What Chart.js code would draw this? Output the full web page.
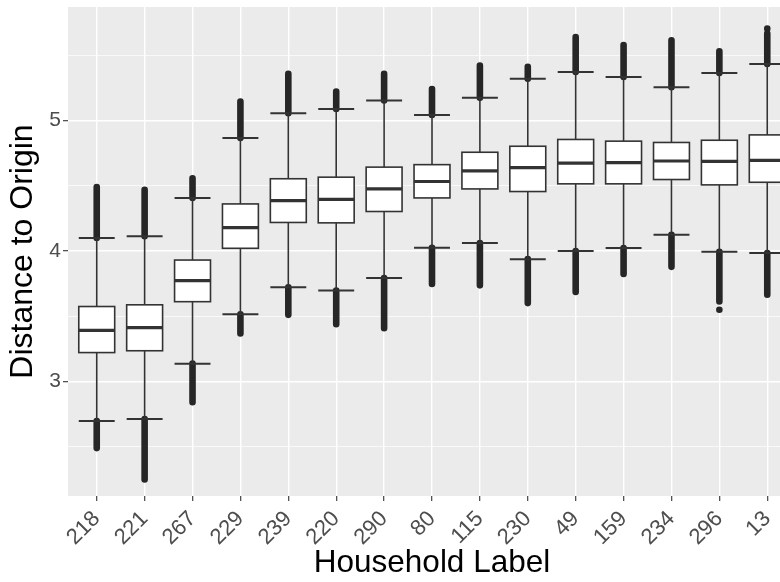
<!DOCTYPE html>
<html lang="en">
<head>
<meta charset="UTF-8">
<title>Distance to Origin by Household</title>
<script src="https://cdn.jsdelivr.net/npm/chart.js"></script>
<style>
  html, body { margin: 0; padding: 0; overflow: hidden; background: #fff; }
</style>
</head>
<body>
<!-- canvas is a bit wider than the window: the last box runs off the right edge like the original -->
<canvas id="boxChart" width="812" height="582"></canvas>
<script>
// categories in plot order
const households = ['218', '221', '267', '229', '239', '220', '290', '80', '115', '230', '49', '159', '234', '296', '13'];

// box stats
const q1     = [3.222, 3.236, 3.612, 4.021, 4.219, 4.216, 4.303, 4.407, 4.476, 4.456, 4.515, 4.515, 4.548, 4.507, 4.527];
const median = [3.392, 3.413, 3.774, 4.180, 4.386, 4.396, 4.476, 4.533, 4.615, 4.639, 4.674, 4.677, 4.690, 4.687, 4.695];
const q3     = [3.575, 3.588, 3.931, 4.361, 4.554, 4.566, 4.643, 4.662, 4.757, 4.803, 4.855, 4.842, 4.832, 4.849, 4.890];
const whiskerHigh = [4.100, 4.113, 4.407, 4.867, 5.056, 5.089, 5.153, 5.042, 5.174, 5.320, 5.372, 5.334, 5.256, 5.364, 5.434];
const whiskerLow  = [2.697, 2.713, 3.137, 3.516, 3.722, 3.697, 3.794, 4.025, 4.062, 3.938, 4.000, 4.023, 4.124, 3.995, 3.985];

// outliers are so dense they form solid columns: keep only their extremes
const outlierMax = [4.490, 4.470, 4.558, 5.145, 5.359, 5.222, 5.359, 5.241, 5.421, 5.411, 5.639, 5.578, 5.614, 5.531, 5.666];
const outlierMin = [2.490, 2.249, 2.842, 3.369, 3.511, 3.439, 3.408, 3.747, 3.737, 3.601, 3.686, 3.825, 3.879, 3.614, 3.666];
// a couple of separate points that stand off the columns
const loneLabels = ['13', '296'];
const loneValues = [5.704, 3.550];

const yTicks = [2.5, 3, 3.5, 4, 4.5, 5, 5.5];

const INK = '#333333';
const BOX_WIDTH = 0.75; // in category units
const FONT = '"Liberation Sans", Arial, sans-serif';

const boxPlugin = {
    id: 'ggBoxes',
    beforeDraw(chart) {
        // grey panel behind the grid
        const { ctx, chartArea: a } = chart;
        ctx.save();
        ctx.fillStyle = '#EBEBEB';
        ctx.fillRect(a.left, a.top, a.right - a.left, a.bottom - a.top);
        ctx.restore();
    },
    beforeDatasetsDraw(chart) {
        const { ctx, scales: { x, y } } = chart;
        ctx.save();
        households.forEach((h, i) => {
            const cx = x.getPixelForValue(i + 1);
            const half = (x.getPixelForValue(i + 1 + BOX_WIDTH / 2) - x.getPixelForValue(i + 1 - BOX_WIDTH / 2)) / 2;

            // outlier columns
            ctx.lineWidth = 6.6;
            ctx.lineCap = 'round';
            ctx.strokeStyle = '#262626';
            ctx.beginPath();
            ctx.moveTo(cx, y.getPixelForValue(whiskerHigh[i]));
            ctx.lineTo(cx, y.getPixelForValue(outlierMax[i]));
            ctx.moveTo(cx, y.getPixelForValue(whiskerLow[i]));
            ctx.lineTo(cx, y.getPixelForValue(outlierMin[i]));
            ctx.stroke();
            ctx.lineCap = 'butt';
            ctx.strokeStyle = INK;

            // whisker line
            ctx.lineWidth = 1.6;
            ctx.beginPath();
            ctx.moveTo(cx, y.getPixelForValue(whiskerLow[i]));
            ctx.lineTo(cx, y.getPixelForValue(whiskerHigh[i]));
            ctx.stroke();

            // whisker caps
            ctx.lineWidth = 2;
            ctx.beginPath();
            [whiskerLow[i], whiskerHigh[i]].forEach(v => {
                const py = y.getPixelForValue(v);
                ctx.moveTo(cx - half, py);
                ctx.lineTo(cx + half, py);
            });
            ctx.stroke();

            // box
            const top = y.getPixelForValue(q3[i]);
            const bot = y.getPixelForValue(q1[i]);
            ctx.fillStyle = '#ffffff';
            ctx.fillRect(cx - half, top, half * 2, bot - top);
            ctx.lineWidth = 1.6;
            ctx.strokeRect(cx - half, top, half * 2, bot - top);

            // median
            ctx.lineWidth = 3.2;
            ctx.beginPath();
            const my = y.getPixelForValue(median[i]);
            ctx.moveTo(cx - half, my);
            ctx.lineTo(cx + half, my);
            ctx.stroke();
        });
        ctx.restore();
    }
};

const ctx = document.getElementById('boxChart').getContext('2d');

new Chart(ctx, {
    type: 'scatter',
    data: {
        datasets: [{
            label: 'lone outliers',
            data: loneLabels.map((l, i) => ({ x: households.indexOf(l) + 1, y: loneValues[i] })),
            pointRadius: 3.3,
            pointBackgroundColor: '#262626',
            pointBorderWidth: 0
        }]
    },
    options: {
        responsive: false,
        animation: false,
        devicePixelRatio: 1,
        layout: { padding: { left: 0, right: 16, top: 7, bottom: 0 } },
        plugins: {
            legend: { display: false },
            tooltip: { enabled: false }
        },
        scales: {
            x: {
                type: 'linear',
                min: 0.4,
                max: 15.6,
                afterBuildTicks: s => { s.ticks = households.map((_, i) => ({ value: i + 1 })); },
                afterFit: s => { s.height = 86; s.paddingLeft = 0; s.paddingRight = 0; },
                border: { display: false },
                grid: {
                    color: '#ffffff',
                    lineWidth: 1.4,
                    tickColor: INK,
                    tickWidth: 1.1,
                    tickLength: 5
                },
                ticks: {
                    autoSkip: false,
                    maxRotation: 45,
                    minRotation: 45,
                    padding: 5,
                    color: '#4D4D4D',
                    font: { family: FONT, size: 22 },
                    callback: v => households[v - 1]
                },
                title: {
                    display: true,
                    text: 'Household Label',
                    color: '#000000',
                    font: { family: FONT, size: 31.5, lineHeight: 1 },
                    padding: { top: 0, bottom: 3 }
                }
            },
            y: {
                type: 'linear',
                min: 2.123,
                max: 5.87,
                afterBuildTicks: s => { s.ticks = yTicks.map(v => ({ value: v })); },
                afterFit: s => { s.width = 68; s.paddingTop = 0; s.paddingBottom = 0; },
                border: { display: false },
                grid: {
                    color: '#ffffff',
                    lineWidth: c => Number.isInteger(c.tick && c.tick.value) ? 1.4 : 0.7,
                    tickColor: c => Number.isInteger(c.tick && c.tick.value) ? INK : 'rgba(0,0,0,0)',
                    tickWidth: 1.1,
                    tickLength: 5
                },
                ticks: {
                    padding: 2,
                    color: '#4D4D4D',
                    font: { family: FONT, size: 21 },
                    callback: v => Number.isInteger(v) ? String(v) : ''
                },
                title: {
                    display: true,
                    text: 'Distance to Origin',
                    color: '#000000',
                    font: { family: FONT, size: 32, lineHeight: 1 },
                    padding: { top: 7, bottom: 0 }
                }
            }
        }
    },
    plugins: [boxPlugin]
});
</script>
</body>
</html>
